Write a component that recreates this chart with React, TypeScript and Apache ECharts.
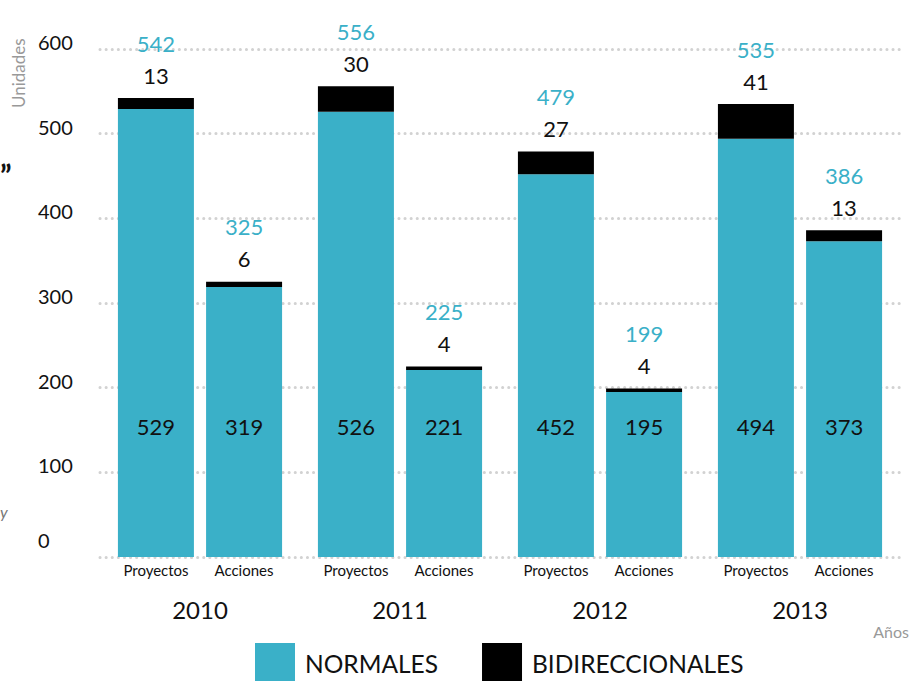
import React, { useEffect, useRef } from "react";
import * as echarts from "echarts";

const years = ["2010", "2011", "2012", "2013"];
const subCategories = ["Proyectos", "Acciones"];
const proyectosNormales = [529, 526, 452, 494];
const proyectosBidireccionales = [13, 30, 27, 41];
const accionesNormales = [319, 221, 195, 373];
const accionesBidireccionales = [6, 4, 4, 13];
const yTicks = [0, 100, 200, 300, 400, 500, 600];

const TEAL = "#3AB0C8";
const FONT = "Lato, 'Noto Sans', sans-serif";

export default function App() {
  const ref = useRef<HTMLDivElement>(null);
  useEffect(() => {
    if (!ref.current) return;
    const chart = echarts.init(ref.current, undefined, { renderer: "svg" });
    const normalLabel = {
      show: true,
      position: ["50%", "100%"],
      offset: [0, -131],
      align: "center",
      verticalAlign: "middle",
      fontSize: 22,
      color: "#111",
      fontFamily: FONT,
    };
    const bidirLabel = (normals: number[], bidir: number[]) => ({
      show: true,
      position: "top",
      distance: 7,
      fontFamily: FONT,
      formatter: (p: any) =>
        `{t|${normals[p.dataIndex] + bidir[p.dataIndex]}}\n{b|${bidir[p.dataIndex]}}`,
      rich: {
        t: { fontSize: 22, color: TEAL, lineHeight: 32, fontFamily: FONT },
        b: { fontSize: 22, color: "#111", lineHeight: 32, fontFamily: FONT },
      },
    });
    chart.setOption({
      animation: false,
      textStyle: { fontFamily: FONT },
      grid: { left: 100, right: 23, top: 49, bottom: 124, containLabel: false },
      legend: {
        data: ["NORMALES", "BIDIRECCIONALES"],
        left: 250,
        top: 638,
        itemWidth: 40,
        itemHeight: 40,
        itemGap: 44,
        icon: "rect",
        textStyle: { fontSize: 24.5, color: "#111", fontFamily: FONT, padding: [0, 0, 0, 5] },
      },
      xAxis: {
        type: "category",
        data: years,
        axisLine: { show: false },
        axisTick: { show: false },
        axisLabel: {
          margin: 1,
          interval: 0,
          formatter: (v: string) =>
            `{p|${subCategories[0]}}{a|${subCategories[1]}}\n{y|${v}}`,
          rich: {
            p: { width: 88, align: "center", fontSize: 15, lineHeight: 24, color: "#111", fontFamily: FONT },
            a: { width: 88, align: "center", fontSize: 15, lineHeight: 24, color: "#111", fontFamily: FONT },
            y: { fontSize: 24, lineHeight: 54, color: "#111", fontFamily: FONT },
          },
        },
      },
      yAxis: {
        type: "value",
        min: yTicks[0],
        max: yTicks[yTicks.length - 1],
        interval: 100,
        axisLine: { show: false },
        axisTick: { show: false },
        axisLabel: {
          align: "left",
          margin: 62,
          color: "#111",
          fontFamily: FONT,
          verticalAlign: "middle",
          formatter: (v: number) => (v === 0 ? `{z|${v}}` : `{n|${v}}`),
          rich: {
            n: { fontSize: 20, color: "#111", fontFamily: FONT, padding: [0, 0, 14, 0] },
            z: { fontSize: 20, color: "#111", fontFamily: FONT, padding: [0, 0, 34, 0] },
          },
        },
        splitLine: {
          lineStyle: { color: "#d2d2d2", width: 3, type: [0.1, 6], cap: "round" },
        },
      },
      series: [
        {
          name: "NORMALES",
          type: "bar",
          stack: "P",
          data: proyectosNormales,
          barWidth: 76,
          barGap: "16%",
          itemStyle: { color: TEAL },
          label: normalLabel,
        },
        {
          name: "BIDIRECCIONALES",
          type: "bar",
          stack: "P",
          data: proyectosBidireccionales,
          barWidth: 76,
          barGap: "16%",
          itemStyle: { color: "#000" },
          label: bidirLabel(proyectosNormales, proyectosBidireccionales),
        },
        {
          name: "NORMALES",
          type: "bar",
          stack: "A",
          data: accionesNormales,
          barWidth: 76,
          barGap: "16%",
          itemStyle: { color: TEAL },
          label: normalLabel,
        },
        {
          name: "BIDIRECCIONALES",
          type: "bar",
          stack: "A",
          data: accionesBidireccionales,
          barWidth: 76,
          barGap: "16%",
          itemStyle: { color: "#000" },
          label: bidirLabel(accionesNormales, accionesBidireccionales),
        },
      ],
      graphic: [
        {
          type: "text",
          x: 27,
          y: 108,
          rotation: Math.PI / 2,
          style: {
            text: "Unidades",
            fontSize: 17,
            fill: "#999",
            fontFamily: FONT,
            align: "left",
            verticalAlign: "bottom",
          },
        },
        {
          type: "text",
          right: 14,
          top: 623,
          style: { text: "Años", fontSize: 16, fill: "#999", fontFamily: FONT },
        },
        {
          type: "text",
          left: 0,
          top: 160,
          style: { text: "”", fontSize: 30, fontWeight: "bold", fill: "#111", fontFamily: FONT },
        },
        {
          type: "text",
          left: 0,
          top: 503,
          style: { text: "y", fontSize: 16, fontStyle: "italic", fill: "#777", fontFamily: FONT },
        },
      ],
    });
    return () => chart.dispose();
  }, []);
  return (
    <div
      ref={ref}
      style={{ position: "fixed", left: 0, top: 0, width: 923, height: 681, background: "#fff" }}
    />
  );
}
